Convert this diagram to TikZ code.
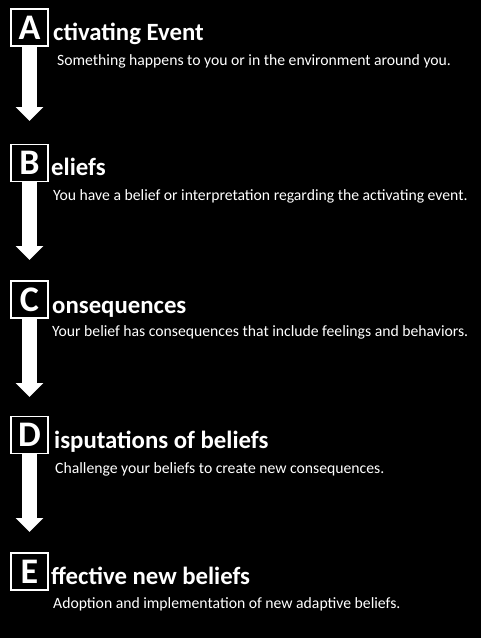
\documentclass[tikz,border=0pt]{standalone}
\usepackage{fontspec}
\setmainfont{Carlito}
\usetikzlibrary{arrows.meta}
\begin{document}
\begin{tikzpicture}[x=1pt,y=-1pt,
  letterbox/.style={draw=white,line width=1.8pt,fill=black,text=white,minimum width=37pt,minimum height=37pt,inner sep=0pt,font=\fontsize{36}{36}\selectfont\bfseries},
  titletext/.style={anchor=base west,inner sep=0pt,text=white,font=\fontsize{24.8}{24.8}\selectfont\bfseries},
  subtext/.style={anchor=base west,inner sep=0pt,text=white,font=\fontsize{15.7}{15.7}\selectfont},
  bigarrow/.style={draw=white,line width=15pt,-{Triangle[width=27pt,length=14pt]}}]
\fill[black] (0,0) rectangle (481,638);
\useasboundingbox (0,0) rectangle (481,638);
% boxes
\node[letterbox] (A) at (29.5,27.5) {A};
\node[letterbox] (B) at (29.5,163) {B};
\node[letterbox] (C) at (29.5,299.5) {C};
\node[letterbox] (D) at (29.5,435) {D};
\node[letterbox] (E) at (29.5,571.5) {E};
% arrow ends
\coordinate (tA) at (29.5,121);
\coordinate (tB) at (29.5,260);
\coordinate (tC) at (29.5,397);
\coordinate (tD) at (29.5,532);
\draw[bigarrow] (A.south) -- (tA);
\draw[bigarrow] (B.south) -- (tB);
\draw[bigarrow] (C.south) -- (tC);
\draw[bigarrow] (D.south) -- (tD);
% titles
\node[titletext] (tiA) at (53,40) {ctivating Event};
\node[titletext] (tiB) at (51,175) {eliefs};
\node[titletext] (tiC) at (52,313) {onsequences};
\node[titletext] (tiD) at (54,448) {isputations of beliefs};
\node[titletext] (tiE) at (51,584) {ffective new beliefs};
% subtitles
\node[subtext] (sA) at (57,65) {Something happens to you or in the environment around you.};
\node[subtext] (sB) at (53,200) {You have a belief or interpretation regarding the activating event.};
\node[subtext] (sC) at (52,336) {Your belief has consequences that include feelings and behaviors.};
\node[subtext] (sD) at (55,473) {Challenge your beliefs to create new consequences.};
\node[subtext] (sE) at (53,608) {Adoption and implementation of new adaptive beliefs.};
\end{tikzpicture}
\end{document}
